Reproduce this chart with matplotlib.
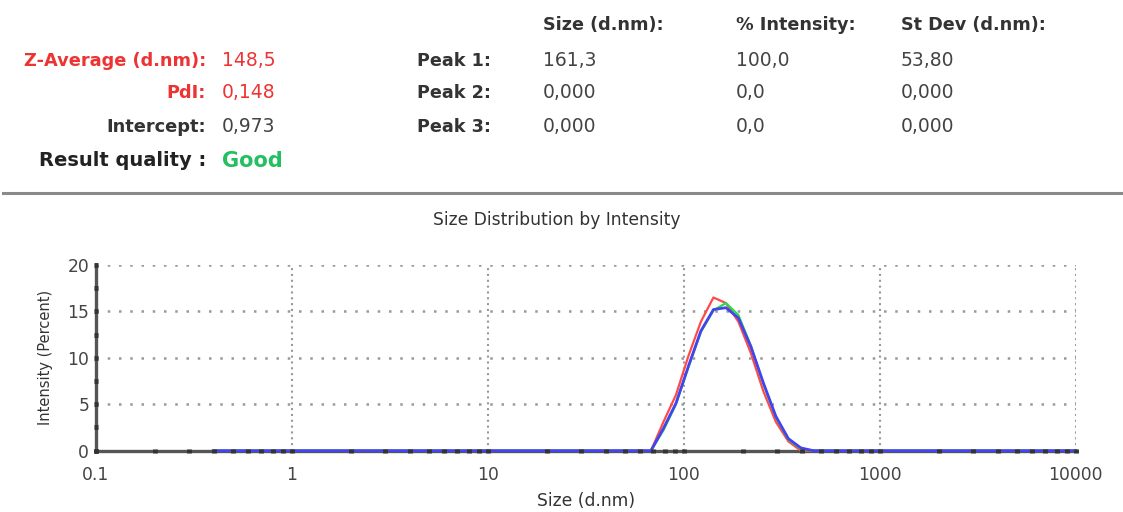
import matplotlib.pyplot as plt
from matplotlib.ticker import FixedLocator, NullFormatter

plt.rcParams["font.family"] = ["DejaVu Sans"]

# size bins (d.nm) and intensity (%) for the three runs
sizes = [0.4, 68.06, 78.82, 91.28, 105.7, 122.4, 141.8, 164.2, 190.1,
         220.2, 255.0, 295.3, 342.0, 396.1, 458.7, 10000]
run_red = [0, 0, 3.1, 6.0, 10.2, 13.9, 16.5, 15.9, 13.9,
           10.5, 6.4, 3.1, 1.0, 0, 0, 0]
run_green = [0, 0, 2.2, 5.0, 9.0, 12.8, 15.1, 15.9, 14.6,
             11.3, 7.2, 3.6, 1.2, 0.2, 0, 0]
run_blue = [0, 0, 2.4, 5.1, 9.1, 12.9, 15.2, 15.4, 14.3,
            11.2, 7.3, 3.7, 1.3, 0.3, 0, 0]

x_ticks = [0.1, 1, 10, 100, 1000, 10000]
x_ticklabels = ["0.1", "1", "10", "100", "1000", "10000"]
y_ticks = [0, 5, 10, 15, 20]

# summary table
summary_labels = ["Z-Average (d.nm):", "PdI:", "Intercept:", "Result quality :"]
summary_values = ["148,5", "0,148", "0,973", "Good"]
summary_colors = ["#ee3333", "#ee3333", "#333333", "#222222"]
value_colors = ["#ee3333", "#ee3333", "#444444", "#22c060"]

peak_labels = ["Peak 1:", "Peak 2:", "Peak 3:"]
col_headers = ["Size (d.nm):", "% Intensity:", "St Dev (d.nm):"]
peak_size = ["161,3", "0,000", "0,000"]
peak_intensity = ["100,0", "0,0", "0,0"]
peak_stdev = ["53,80", "0,000", "0,000"]

W, H = 1123, 512
fig = plt.figure(figsize=(W / 100, H / 100), dpi=100)


def px(x, y):
    return x / W, 1 - y / H


row_y = [61, 93, 127, 161]
for i, (lab, val) in enumerate(zip(summary_labels, summary_values)):
    last = i == 3
    fig.text(*px(206, row_y[i]), lab, ha="right", va="center",
             fontsize=14 if last else 12.8,
             fontweight="bold", color=summary_colors[i])
    fig.text(*px(222, row_y[i]), val, ha="left", va="center",
             fontsize=15 if last else 13.5,
             fontweight="bold" if last else "normal", color=value_colors[i])

col_x = [543, 736, 901]
for cx, head in zip(col_x, col_headers):
    fig.text(*px(cx, 25), head, ha="left", va="center", fontsize=12.7,
             fontweight="bold", color="#333333")
for i, lab in enumerate(peak_labels):
    y = row_y[i]
    fig.text(*px(417, y), lab, ha="left", va="center", fontsize=12.7,
             fontweight="bold", color="#333333")
    for cx, col in zip(col_x, [peak_size, peak_intensity, peak_stdev]):
        fig.text(*px(cx, y), col[i], ha="left", va="center", fontsize=13.5,
                 color="#444444")

# separator between the table and the plot
fig.add_artist(plt.Line2D([3 / W, 1], [1 - 193 / H] * 2, color="#8a8a8a",
                          lw=2.2, transform=fig.transFigure))

fig.text(*px(557, 220), "Size Distribution by Intensity", ha="center",
         va="center", fontsize=12.3, color="#333333")

ax = fig.add_axes([95.7 / W, 1 - 450.7 / H, 980 / W, 185.7 / H])
ax.set_xscale("log")
ax.set_xlim(0.1, 10000)
ax.set_ylim(0, 20)
ax.set_axisbelow(False)

ax.plot(sizes, run_red, color="#ff4a4a", lw=1.6, zorder=2.0, clip_on=False)
ax.plot(sizes, run_green, color="#22dd44", lw=1.6, zorder=2.1, clip_on=False)
ax.plot(sizes, run_blue, color="#4444ee", lw=2.0, zorder=2.2, clip_on=False)

for y in y_ticks[1:]:
    ax.axhline(y, color="#999999", lw=1.8, ls=(0, (1, 3.5)), zorder=1)
for x in x_ticks[1:]:
    ax.axvline(x, color="#999999", lw=1.5, ls=(0, (1, 1.8)), zorder=1)

for side in ["top", "right"]:
    ax.spines[side].set_visible(False)
for side in ["left", "bottom"]:
    ax.spines[side].set_color("#555555")
    ax.spines[side].set_linewidth(2.4)
    ax.spines[side].set_zorder(1.5)

ax.set_xticks(x_ticks)
ax.set_xticklabels(x_ticklabels)
ax.xaxis.set_minor_locator(FixedLocator(
    [m * 10.0 ** e for e in range(-1, 4) for m in range(2, 10)]))
ax.xaxis.set_minor_formatter(NullFormatter())
ax.set_yticks(y_ticks)
ax.yaxis.set_minor_locator(FixedLocator([2.5, 7.5, 12.5, 17.5]))

ax.tick_params(which="both", direction="inout", length=3.5, width=3.5,
               color="#333333", labelsize=12.3, labelcolor="#444444")
ax.tick_params(axis="x", which="major", pad=9)
ax.tick_params(axis="y", which="major", pad=3)

ax.set_xlabel("Size (d.nm)", fontsize=12.3, color="#333333", labelpad=6)
ax.set_ylabel("Intensity (Percent)", fontsize=10.5, color="#333333", labelpad=10)

fig.savefig("out.png", dpi=100)
